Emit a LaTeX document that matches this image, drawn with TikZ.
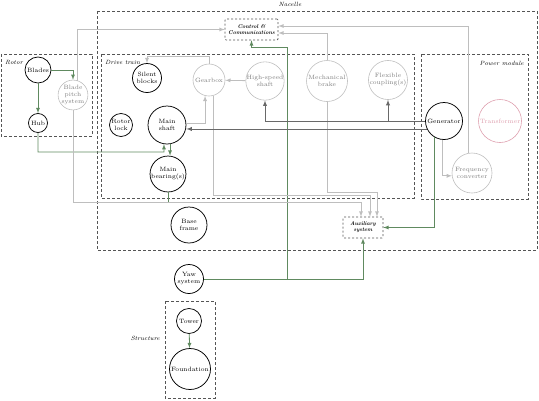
\documentclass[tikz,border=0pt]{standalone}
\usetikzlibrary{arrows, positioning}

\definecolor{linkgreen}{RGB}{96,138,96}
\definecolor{softgray}{RGB}{190,190,190}
\definecolor{textgray}{RGB}{125,125,125}
\definecolor{hardgray}{RGB}{105,105,105}
\definecolor{boxgray}{RGB}{85,85,85}
\definecolor{trafopink}{RGB}{222,160,175}

\tikzset{
	part/.style={circle, draw, line width=0.75pt, inner sep=0pt, align=center, font=\fontsize{6.2}{7}\selectfont},
	minor/.style={part, draw=softgray, line width=0.6pt, text=textgray},
	service/.style={draw=boxgray, dash pattern=on 2pt off 2pt, line width=0.7pt, rounded corners=1pt, inner sep=0pt, align=center, font=\fontsize{5.5}{6}\selectfont\bfseries\itshape},
	group/.style={draw=boxgray, dash pattern=on 3pt off 2pt, line width=0.9pt},
	grouplabel/.style={inner sep=0pt, font=\fontsize{6.1}{8}\selectfont\itshape},
	greenlink/.style={->, draw=linkgreen, line width=0.8pt},
	softlink/.style={->, draw=softgray, line width=0.8pt},
	hardlink/.style={->, draw=hardgray, line width=0.9pt}
}

\begin{document}
\begin{tikzpicture}[x=1pt, y=-1pt, >=latex]
	\useasboundingbox (0,0) rectangle (539,400);

	% groups
	\draw[group] (97,11) rectangle (537,250);
	\draw[group] (1,54) rectangle (92,136);
	\draw[group] (101,54) rectangle (414,198);
	\draw[group] (421,54) rectangle (528,199);
	\draw[group] (165,301) rectangle (215,398);

	\node[grouplabel] (nacelle) at (290,4) {Nacelle};
	\node[grouplabel, anchor=west] (rotor) at (5,62) {Rotor};
	\node[grouplabel, anchor=west] (drivetrain) at (105,62) {Drive train};
	\node[grouplabel, anchor=east] (powermodule) at (524,63) {Power module};
	\node[grouplabel, anchor=east] (structure) at (160,338) {Structure};

	% components
	\node[part, minimum size=26pt] (blades) at (38,70) {Blades};
	\node[minor, minimum size=25pt] (pitch) at (73,95) {Blade\\pitch\\system};
	\node[part, minimum size=19pt] (hub) at (38,123) {Hub};
	\node[part, minimum size=29pt] (silent) at (147,78) {Silent\\blocks};
	\node[minor, minimum size=32pt] (gearbox) at (209,80) {Gearbox};
	\node[minor, minimum size=37pt] (hss) at (265,81) {High-speed\\shaft};
	\node[minor, minimum size=41pt] (brake) at (327,81) {Mechanical\\brake};
	\node[minor, minimum size=39pt] (coupling) at (388,80) {Flexible\\coupling(s)};
	\node[part, minimum size=23pt] (lock) at (121,125) {Rotor\\lock};
	\node[part, minimum size=38pt] (shaft) at (167,125) {Main\\shaft};
	\node[part, minimum size=34pt] (bearing) at (168,174) {Main\\bearing(s)};
	\node[part, minimum size=37pt] (gen) at (444,121) {Generator};
	\node[minor, draw=trafopink, text=trafopink, minimum size=43pt] (trafo) at (500,121) {Transformer};
	\node[minor, minimum size=40pt] (conv) at (472,173) {Frequency\\converter};
	\node[part, minimum size=36pt] (frame) at (189,225) {Base\\frame};
	\node[part, minimum size=29pt] (yaw) at (189,279) {Yaw\\system};
	\node[part, minimum size=25pt] (tower) at (189,321) {Tower};
	\node[part, minimum size=41pt] (found) at (190,369) {Foundation};
	\node[service, minimum width=53pt, minimum height=21pt] (cc) at (251.5,29.5) {Control \&\\Communications};
	\node[service, minimum width=40pt, minimum height=21pt] (aux) at (363,227.5) {Auxiliary\\system};
	\coordinate (bearingend) at (168,202);

	% green links
	\draw[greenlink] (blades) -| (pitch);
	\draw[greenlink] (blades) -- (hub);
	\draw[greenlink] (hub) |- (164,152) -- (shaft.261);
	\draw[greenlink] (shaft.-81) -- (shaft.-81 |- bearing.north);
	\draw[greenlink, -] (bearing) -- (bearingend);
	\draw[greenlink] (gen.240) |- (aux);
	\draw[greenlink] (yaw) -| (aux);
	\draw[greenlink] (yaw) -| (287,47) -| (cc);
	\draw[greenlink] (tower) -- (found);

	% light links
	\draw[softlink] (pitch.72) |- (cc.west);
	\draw[softlink] (pitch) |- (361,202) -- ([xshift=-2pt]aux.north);
	\draw[softlink] (gearbox.-76) |- (370,195) -- ([xshift=7pt]aux.north);
	\draw[softlink] (brake) |- (377,192) -- ([xshift=14pt]aux.north);
	\draw[softlink] (gearbox) |- (147,56) -- (silent);
	\draw[softlink] (shaft.5) -| (gearbox.-104);
	\draw[softlink] (hss) -- (gearbox);
	\draw[softlink] (brake) |- ([yshift=-3.5pt]cc.east);
	\draw[softlink] (conv.99) |- ([yshift=3.5pt]cc.east);
	\draw[softlink] (gen.-96) |- (conv.188);

	% dark links
	\draw[hardlink] (gen) -| (hss);
	\draw[hardlink] (gen) -| (coupling);
	\draw[hardlink] (gen.205) -- (gen.205 -| shaft.east);
\end{tikzpicture}
\end{document}
